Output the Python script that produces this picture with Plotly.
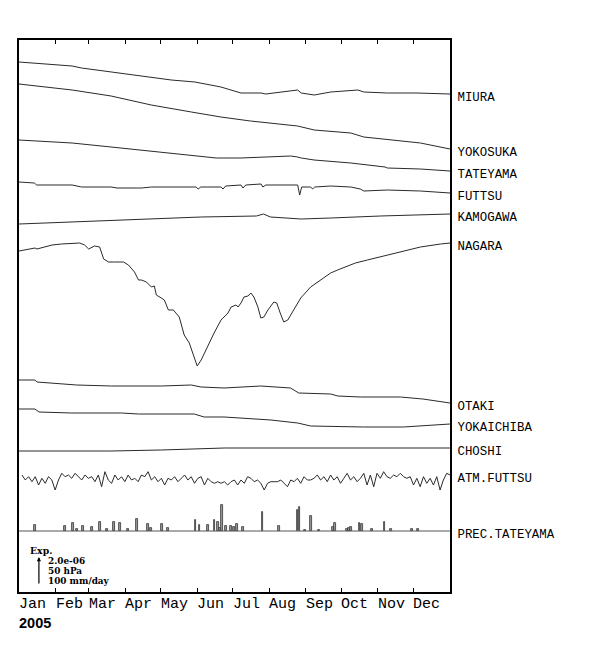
import plotly.graph_objects as go

# ---------------- data (vertical values are chart display units, top = 40, bottom = 592) -------------
MONTHS = ["Jan", "Feb", "Mar", "Apr", "May", "Jun", "Jul", "Aug", "Sep", "Oct", "Nov", "Dec"]
MONTH_LENGTHS = [31, 28, 31, 30, 31, 30, 31, 31, 30, 31, 30, 31]
YEAR = "2005"

STATIONS = ["MIURA", "YOKOSUKA", "TATEYAMA", "FUTTSU", "KAMOGAWA", "NAGARA",
            "OTAKI", "YOKAICHIBA", "CHOSHI", "ATM.FUTTSU", "PREC.TATEYAMA"]

miura_day = [0, 45, 53, 78, 104, 129, 149, 154, 171, 188, 205, 209, 230, 236, 239, 250, 264, 281, 287, 292, 312, 337, 365]
miura_val = [62, 66, 68, 72, 76, 80, 82, 83, 87, 93, 93, 94, 91, 90, 93, 95, 92, 90, 90, 92, 93, 93, 94]

yokosuka_day = [0, 45, 78, 112, 146, 171, 196, 222, 236, 250, 281, 292, 314, 340, 365]
yokosuka_val = [84, 90, 96, 105, 112, 117, 121, 124, 126, 130, 133, 137, 140, 143, 149]

tateyama_day = [0, 45, 78, 104, 129, 146, 167, 188, 213, 230, 236, 239, 250, 281, 310, 312, 340, 365]
tateyama_val = [140, 143, 147, 150, 153, 155, 158, 158, 157, 156, 157, 158, 160, 163, 167, 168, 169, 171]

futtsu_day = [0, 13, 15, 45, 53, 78, 83, 104, 112, 150, 151.7, 154, 171, 172.8, 175, 188, 189.7, 192, 205, 206.5,
              209, 236, 237.7, 239.4, 247, 248.7, 250.4, 264, 281, 289, 292, 312, 340, 365]
futtsu_val = [182, 183, 185, 185, 187, 187, 188, 188, 187, 187, 189, 187, 187, 189, 186, 185, 188, 185, 184, 187,
              185, 185, 195, 187, 187, 189, 187, 186, 187, 189, 191, 190, 191, 193]

kamogawa_day = [0, 70, 154, 201, 207, 213, 239, 264, 306, 365]
kamogawa_val = [224, 221, 217, 216, 214, 217, 219, 218, 216, 214]

nagara_day = [0, 13.5, 15.2, 28, 36, 49, 51.4, 55.6, 59, 64,
              68.3, 71.7, 75.9, 80.9, 88.5, 92.7, 97.8, 101.2, 103.7, 107.9,
              112.1, 114.6, 116.3, 120.5, 123.1, 126.5, 130.7, 135.7, 139.9, 144.2,
              148.4, 150.9, 154.3, 160.2, 165.2, 171.1, 177, 179.6, 183.8, 185.5,
              188, 190.5, 193.9, 196.4, 198.9, 202.3, 204.8, 207.4, 210.8, 215.8,
              218.3, 220.9, 224.2, 227.6, 232.7, 238.6, 247, 255.4, 263.9, 269.8,
              276.5, 284.9, 295, 306, 323, 340, 357, 365]
nagara_val = [251, 248, 249, 245, 244, 243, 243, 245, 249, 246,
              247, 259, 262, 262, 262, 265, 272, 280, 280, 282,
              287, 286, 295, 298, 300, 310, 310, 317, 335, 343,
              357, 366, 360, 345, 333, 320, 313, 307, 305, 307,
              303, 297, 296, 293, 297, 307, 318, 317, 310, 302,
              303, 312, 322, 320, 310, 298, 287, 280, 273, 270,
              267, 263, 260, 257, 252, 247, 244, 243]

otaki_day = [0, 13.5, 15.2, 44.7, 48.9, 78.4, 120.5, 145.8, 154.3, 173.7, 204.8, 230, 236.9, 264, 270, 289, 323, 342, 365]
otaki_val = [380, 380, 382, 384, 385, 386, 386, 385, 387, 388, 386, 388, 393, 394, 396, 397, 397, 399, 403]

yokaichiba_day = [0, 13.5, 16.9, 44.7, 86.8, 101.2, 148.4, 156.8, 173.7, 213.3, 236, 247, 291.7, 325.4, 365]
yokaichiba_val = [409, 409, 412, 413, 413, 414, 414, 417, 417, 420, 423, 426, 427, 427, 424]

choshi_day = [0, 78, 120, 174, 365]
choshi_val = [451, 451, 450, 448, 448]

# atmospheric pressure, sampled every 2.81 days starting at day 2.53
ATM_FIRST_DAY = 2.53
ATM_STEP_DAYS = 2.81
atm_val = [475, 480, 476.7, 481.7, 476.7, 485, 478.3, 483.3, 476.7, 480,
           490, 480, 473.3, 476.7, 475, 478.3, 473.3, 476.7, 480, 475,
           478.3, 476.7, 481.7, 475, 486.7, 471.7, 480, 483.3, 475, 480,
           476.7, 481.7, 475, 480, 478.3, 481.7, 475, 476.7, 471.7, 480,
           476.7, 481.7, 478.3, 485, 478.3, 480, 476.7, 481.7, 478.3, 475,
           480, 476.7, 483.3, 478.3, 476.7, 485, 478.3, 481.7, 483.3, 481.7,
           483.3, 481.7, 485,
           481.7, 480, 485, 480, 483.3, 476.7, 478.3, 481.7, 480, 483.3,
           490, 483.3, 481.7, 481.7, 481.7, 480, 483.3, 486.7, 480, 481.7,
           478.3, 483.3, 476.7, 480, 480, 478.3, 475, 480, 476.7, 481.7,
           475, 480, 476.7, 483.3, 478.3, 473.3, 480, 476.7, 481.7, 478.3,
           473.3, 485, 475, 486.7, 473.3, 478.3, 471.7, 476.7, 478.3, 475,
           476.7, 473.3, 476.7, 478.3, 476.7, 485, 478.3, 486.7, 476.7, 483.3,
           478.3, 485, 476.7, 490, 480, 473.3, 475]

# daily precipitation at Tateyama (mm/day)
prec_day = [13.8, 39, 45.5, 48.9, 54.5, 61.5, 68.6, 74.2, 80.6, 85.4,
            92.5, 99.8, 109.3, 112, 121, 126.2, 149.5, 152.8, 159.9, 165.5,
            168.3, 170.3, 172, 175.3, 179.6, 181.8, 184.4, 189.4, 206.3, 220.3,
            235.8, 237.5, 242, 247.6, 254, 266.1, 267.5, 277.9, 279.3, 281.3,
            288.3, 290.6, 299, 309.6, 315.3, 332.7, 337.8]
prec_mm = [20, 18, 27, 8, 18, 15, 33, 6, 33, 27,
           8, 42, 24, 12, 26, 12, 38, 20, 21, 38,
           33, 12, 92, 18, 19, 15, 24, 15, 67, 19,
           75, 85, 4, 54, 4, 13, 27, 7, 10, 15,
           30, 25, 7, 33, 7, 6, 6]

SCALE_LINES = ["2.0e-06", "50 hPa", "100 mm/day"]

# ---------------- figure -------------
LINE = dict(color="#2a2a2a", width=1)
atm_day = [ATM_FIRST_DAY + ATM_STEP_DAYS * i for i in range(len(atm_val))]

series = [(miura_day, miura_val), (yokosuka_day, yokosuka_val), (tateyama_day, tateyama_val),
          (futtsu_day, futtsu_val), (kamogawa_day, kamogawa_val), (nagara_day, nagara_val),
          (otaki_day, otaki_val), (yokaichiba_day, yokaichiba_val), (choshi_day, choshi_val),
          (atm_day, atm_val)]

fig = go.Figure()
for (d, v), name in zip(series, STATIONS):
    fig.add_trace(go.Scatter(x=d, y=v, mode="lines", line=LINE, name=name, hoverinfo="skip"))

fig.add_trace(go.Bar(x=prec_day, y=prec_mm, width=1.5, yaxis="y2", name=STATIONS[-1],
                     marker=dict(color="#9a9a9a", line=dict(color="#333333", width=0.8))))

# precipitation axis: 28 px per 100 mm, baseline 61 px above the bottom of the plot
MM_PER_PX = 100 / 28
y2_lo = -61 * MM_PER_PX
y2_hi = y2_lo + 552 * MM_PER_PX

month_starts = [sum(MONTH_LENGTHS[:i]) for i in range(12)]
label_pos = [v[-1] + 3 for _, v in series] + [531 + 3]

# the page body has an 8 px margin, so the figure is 8 px smaller and margins shifted
MONO = "Liberation Mono"
fig.update_layout(
    width=592, height=642,
    margin=dict(l=9, r=150, t=32, b=58),
    plot_bgcolor="white", paper_bgcolor="white",
    showlegend=False, bargap=0,
    xaxis=dict(range=[0, 365], tickvals=month_starts, showticklabels=False,
               ticks="inside", ticklen=4, tickwidth=1, tickcolor="black",
               showline=True, linecolor="black", linewidth=2, mirror="ticks",
               showgrid=False, zeroline=False),
    yaxis=dict(range=[592, 40], side="right", tickvals=label_pos, ticktext=STATIONS, ticks="",
               tickfont=dict(family=MONO, size=12.4, color="black"), ticklabelstandoff=3,
               showline=True, linecolor="black", linewidth=2, mirror=True,
               showgrid=False, zeroline=False),
    yaxis2=dict(range=[y2_lo, y2_hi], overlaying="y", visible=False),
)

# precipitation baseline
fig.add_shape(type="line", xref="x", yref="y2", x0=0, x1=365, y0=0, y1=0,
              line=dict(color="#555555", width=1))

# month labels
for m, s in zip(MONTHS, month_starts):
    fig.add_annotation(x=s, y=0, xref="x", yref="paper", text=m, showarrow=False,
                       xanchor="left", yanchor="middle", xshift=-2, yshift=-12,
                       font=dict(family=MONO, size=15, color="black"))
fig.add_annotation(x=0, y=0, xref="paper", yref="paper", text="<b>%s</b>" % YEAR, showarrow=False,
                   xanchor="left", yanchor="middle", xshift=-2, yshift=-31,
                   font=dict(family="Liberation Sans", size=14.5, color="black"))

# scale block
SERIF = "DejaVu Serif"
fig.add_annotation(x=0, y=0, xref="paper", yref="paper", text="<b>Exp.</b>", showarrow=False,
                   xanchor="left", yanchor="middle", xshift=9, yshift=592 - 550.5,
                   font=dict(family=SERIF, size=9.3, color="black"))
for txt, py in zip(SCALE_LINES, [561, 571, 581]):
    fig.add_annotation(x=0, y=0, xref="paper", yref="paper", text="<b>%s</b>" % txt, showarrow=False,
                       xanchor="left", yanchor="middle", xshift=27, yshift=592 - py,
                       font=dict(family=SERIF, size=8.9, color="black"))
fig.add_annotation(x=20 / 433, y=(592 - 557) / 552, xref="paper", yref="paper", text="",
                   showarrow=True, ax=0, ay=28, axref="pixel", ayref="pixel",
                   arrowhead=2, arrowsize=0.7, arrowwidth=1.2, arrowcolor="black", standoff=0)

fig.write_html("out.html")
